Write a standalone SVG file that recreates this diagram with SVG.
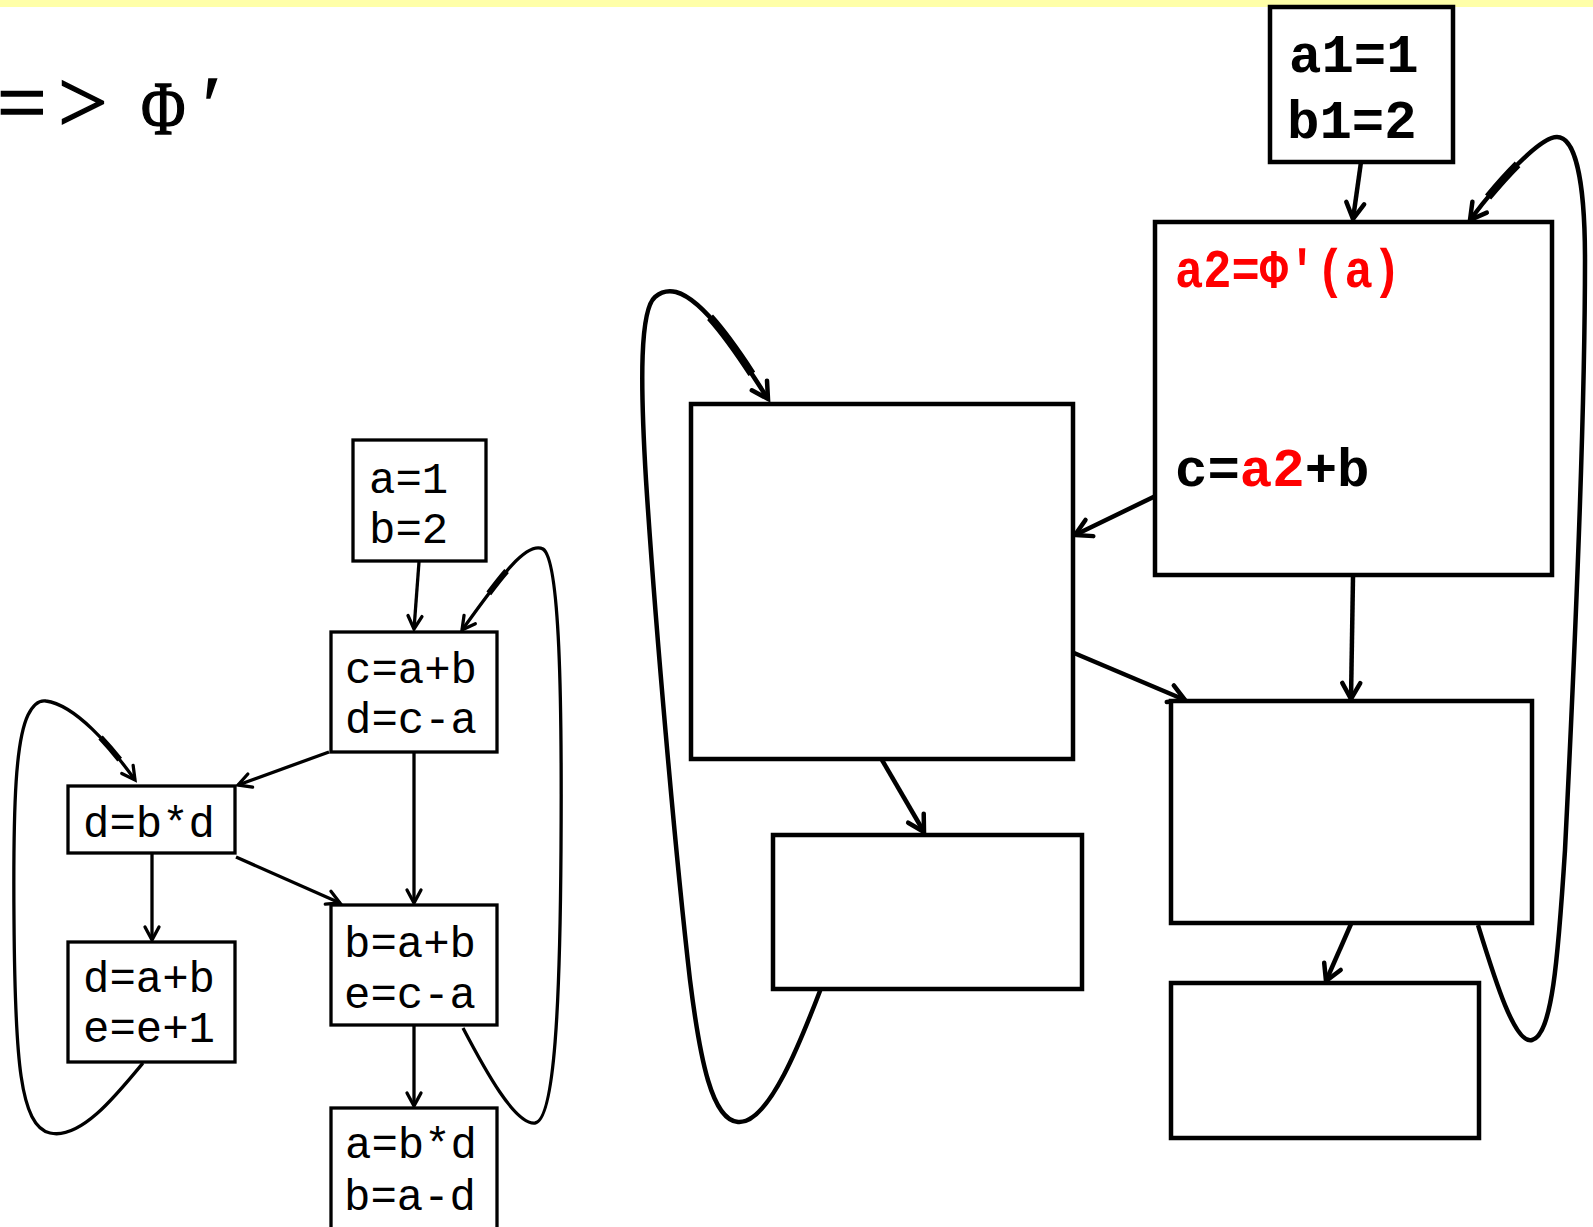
<svg xmlns="http://www.w3.org/2000/svg" width="1593" height="1227" viewBox="0 0 1593 1227">
<style>
.bg{fill:#fff}
.band{fill:#FFFFA8}
.bl{fill:#fff;stroke:#000;stroke-width:3.3}
.br{fill:#fff;stroke:#000;stroke-width:4.5}
.tl{font-family:"Courier New","Liberation Mono",monospace;font-size:44px;fill:#000}
.tr{font-family:"Courier New","Liberation Mono",monospace;font-size:54px;font-weight:bold;fill:#000}
.red{fill:#FF0000}
.title{font-family:"Times New Roman","Liberation Serif",serif;fill:#000;stroke:#000;stroke-width:1.4}
.cl{fill:none;stroke:#000;stroke-width:3.3}
.cr{fill:none;stroke:#000;stroke-width:4.5}
.thl{fill:none;stroke:#000;stroke-width:6;stroke-linecap:butt}
.thr{fill:none;stroke:#000;stroke-width:8;stroke-linecap:butt}
</style>
<defs>
<marker id="al" markerUnits="userSpaceOnUse" viewBox="-16 -10 18 20" markerWidth="18" markerHeight="20" refX="0" refY="0" orient="auto" overflow="visible">
<path d="M-13,-7 L0,0 L-13,7" fill="none" stroke="#000" stroke-width="3.3" stroke-linecap="round"/>
</marker>
<marker id="ar" markerUnits="userSpaceOnUse" viewBox="-20 -12 22 24" markerWidth="22" markerHeight="24" refX="0" refY="0" orient="auto" overflow="visible">
<path d="M-16,-9 L0,0 L-16,9" fill="none" stroke="#000" stroke-width="4.5" stroke-linecap="round"/>
</marker>
</defs>
<rect class="bg" x="0" y="0" width="1593" height="1227"/>
<rect class="band" x="0" y="0" width="1593" height="7"/>
<text class="title" font-size="88" x="-3 58" y="132">=&gt;</text>
<text class="title" font-size="76" transform="translate(141,134) scale(0.8,1)" x="0" y="0">Φ</text>
<text class="title" font-size="80" x="203" y="132">′</text>

<g id="connectors">
<!-- left diagram -->
<path class="cl" d="M419,562 L414,629" marker-end="url(#al)"/>
<path class="cl" d="M329,752 L238,785" marker-end="url(#al)"/>
<path class="cl" d="M414,752 L414,903" marker-end="url(#al)"/>
<path class="cl" d="M236,857 L340,903" marker-end="url(#al)"/>
<path class="cl" d="M152,853 L152,940" marker-end="url(#al)"/>
<path class="cl" d="M414,1026 L414,1106" marker-end="url(#al)"/>
<path class="cl" d="M143,1063 C115,1097 80,1140 50,1133 C20,1126 15,1060 14,920 C13,800 16,740 28,715 C34,703 40,700 46,701 C75,705 110,745 135,780" marker-end="url(#al)"/>
<path class="thl" d="M46,701 C75,705 110,745 135,780" pathLength="100" stroke-dasharray="0 55 24 100"/>
<path class="cl" d="M463,1028 C485,1070 515,1125 535,1123 C555,1120 560,1000 561,850 C562,700 560,560 543,549 C525,540 495,585 462,630" marker-end="url(#al)"/>
<path class="thl" d="M543,549 C525,540 495,585 462,630" pathLength="100" stroke-dasharray="0 38 24 100"/>
<!-- right diagram -->
<path class="cr" d="M1361,162 L1353,219" marker-end="url(#ar)"/>
<path class="cr" d="M1353,577 L1351,699" marker-end="url(#ar)"/>
<path class="cr" d="M1351,924 L1326,981" marker-end="url(#ar)"/>
<path class="cr" d="M1172,488 L1075,535" marker-end="url(#ar)"/>
<path class="cr" d="M1074,653 L1185,700" marker-end="url(#ar)"/>
<path class="cr" d="M882,760 L924,832" marker-end="url(#ar)"/>
<path class="cr" d="M823,983 C805,1030 770,1125 738,1122 C712,1120 700,1060 690,980 C675,850 655,620 646,480 C640,380 640,310 655,297 C662,291 668,290 676,292 C705,300 740,355 768,399" marker-end="url(#ar)"/>
<path class="thr" d="M676,292 C705,300 740,355 768,399" pathLength="100" stroke-dasharray="0 30 49 100"/>
<path class="cr" d="M1478,925 C1495,980 1515,1045 1532,1040 C1552,1035 1558,960 1565,850 C1575,650 1585,400 1585,260 C1585,180 1575,137 1557,137 C1540,137 1500,180 1470,220" marker-end="url(#ar)"/>
<path class="thr" d="M1557,137 C1540,137 1500,180 1470,220" pathLength="100" stroke-dasharray="0 40 36 100"/>
</g>

<!-- left diagram nodes -->
<g id="n-a1">
<rect class="bl" x="353" y="440" width="133" height="121"/>
<text class="tl" x="369" y="493">a=1</text>
<text class="tl" x="369" y="543">b=2</text>
</g>
<g id="n-cab">
<rect class="bl" x="331" y="632" width="166" height="120"/>
<text class="tl" x="345" y="683">c=a+b</text>
<text class="tl" x="345" y="733">d=c-a</text>
</g>
<g id="n-dbd">
<rect class="bl" x="68" y="786" width="167" height="67"/>
<text class="tl" x="83" y="837">d=b*d</text>
</g>
<g id="n-dab">
<rect class="bl" x="68" y="942" width="167" height="120"/>
<text class="tl" x="83" y="992">d=a+b</text>
<text class="tl" x="83" y="1042">e=e+1</text>
</g>
<g id="n-bab">
<rect class="bl" x="331" y="905" width="166" height="120"/>
<text class="tl" x="344" y="957">b=a+b</text>
<text class="tl" x="344" y="1008">e=c-a</text>
</g>
<g id="n-abd">
<rect class="bl" x="331" y="1108" width="166" height="130"/>
<text class="tl" x="345" y="1158">a=b*d</text>
<text class="tl" x="344" y="1210">b=a-d</text>
</g>

<!-- right diagram nodes -->
<g id="n-a1b1">
<rect class="br" x="1270" y="7" width="183" height="155"/>
<text class="tr" x="1289" y="72">a1=1</text>
<text class="tr" x="1287" y="138">b1=2</text>
</g>
<g id="n-phi">
<rect class="br" x="1155" y="222" width="397" height="353"/>
<text class="tr red" x="1175" y="287" textLength="226" lengthAdjust="spacingAndGlyphs">a2=Φ'(a)</text>
<text class="tr" x="1175" y="486">c=<tspan class="red">a2</tspan>+b</text>
</g>
<g id="n-left-big">
<rect class="br" x="691" y="404" width="382" height="355"/>
</g>
<g id="n-left-small">
<rect class="br" x="773" y="835" width="309" height="154"/>
</g>
<g id="n-mid">
<rect class="br" x="1171" y="701" width="361" height="222"/>
</g>
<g id="n-bottom">
<rect class="br" x="1171" y="983" width="308" height="155"/>
</g>
</svg>
